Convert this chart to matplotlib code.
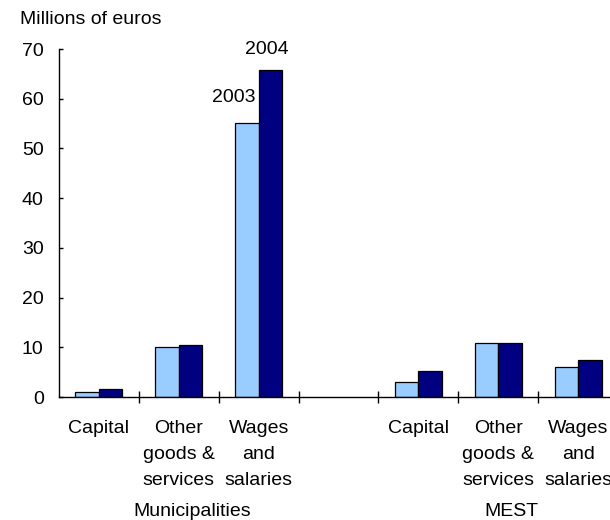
import numpy as np
import matplotlib
matplotlib.use("Agg")
import matplotlib.pyplot as plt
import matplotlib.transforms as mtransforms

plt.rcParams['font.family'] = ['Liberation Sans', 'DejaVu Sans']

# --- data ---
categories = ["Capital", "Other\ngoods &\nservices", "Wages\nand\nsalaries"]
groups = ["Municipalities", "MEST"]
years = ["2003", "2004"]
mun_2003 = [1.0, 10.0, 55.2]
mun_2004 = [1.6, 10.4, 65.7]
mest_2003 = [3.0, 10.9, 6.1]
mest_2004 = [5.2, 10.9, 7.4]

light = '#99CCFF'
dark = '#000080'
fs = 14

fig = plt.figure(figsize=(6.1, 5.2), dpi=100)
ax = fig.add_axes([59 / 610, 123 / 520, 559 / 610, 348 / 520])

# slot positions: 3 municipal categories, one empty slot, 3 MEST categories
mun_x = np.arange(3) + 0.5
mest_x = np.arange(3) + 4.5
w = 0.294

for xs, v03, v04 in [(mun_x, mun_2003, mun_2004), (mest_x, mest_2003, mest_2004)]:
    ax.bar(xs - w / 2, v03, width=w, color=light, edgecolor='black', linewidth=0.9)
    ax.bar(xs + w / 2, v04, width=w, color=dark, edgecolor='black', linewidth=0.9)

ax.set_xlim(0, 7)
ax.set_ylim(0, 70)
ax.set_yticks(np.arange(0, 71, 10))
ax.set_xticks(np.arange(1, 8))
ax.set_xticklabels([])
ax.tick_params(axis='y', direction='in', length=3, width=1, labelsize=fs, pad=11)
ax.tick_params(axis='x', direction='inout', length=9, width=1)
for s in ['top', 'right']:
    ax.spines[s].set_visible(False)
for s in ['left', 'bottom']:
    ax.spines[s].set_linewidth(1)

# category labels under each slot
trans = mtransforms.blended_transform_factory(ax.transData, ax.transAxes)
for xs in (mun_x, mest_x):
    for x, lab in zip(xs, categories):
        ax.text(x, -0.067, lab, transform=trans, ha='center', va='top',
                fontsize=fs, linespacing=1.68, clip_on=False)

# group labels
ax.text(1.67, -0.305, groups[0], transform=trans, ha='center', va='top', fontsize=fs)
ax.text(5.66, -0.305, groups[1], transform=trans, ha='center', va='top', fontsize=fs)

# year labels on the tallest pair
ax.text(mun_x[2] - 0.04, mun_2003[2] + 5, years[0], ha='right', va='center', fontsize=fs)
ax.text(mun_x[2] + w / 2 - 0.05, mun_2004[2] + 4.3, years[1], ha='center', va='center', fontsize=fs)

fig.text(20 / 610, 1 - 20 / 520, "Millions of euros", ha='left', va='center', fontsize=fs)

fig.savefig("out.png", dpi=100)
